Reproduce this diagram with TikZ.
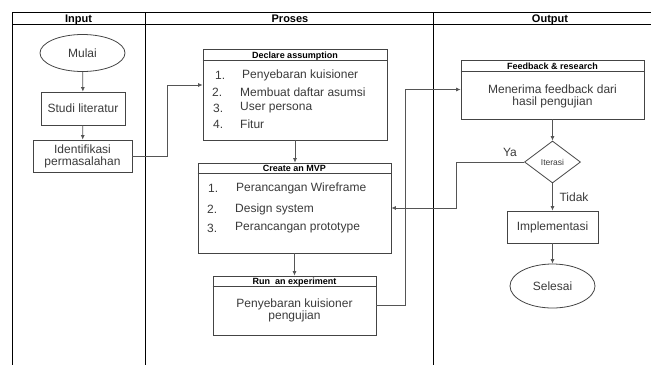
\documentclass[tikz,border=0pt]{standalone}
\usepackage{fontspec}
\setmainfont{Liberation Sans}
\usetikzlibrary{arrows.meta,shapes.geometric}
\definecolor{txt}{HTML}{3A3A3A}
\definecolor{boxc}{HTML}{444444}
\definecolor{linec}{HTML}{555555}
\tikzset{
  tabline/.style={line width=0.9pt, black},
  boxnode/.style={draw=boxc, line width=0.8pt, rectangle, inner sep=0pt, align=center, text=txt, font=\fontsize{12}{14}\selectfont},
  ellnode/.style={draw=boxc, line width=0.8pt, ellipse, inner sep=0pt, text=txt, font=\fontsize{12}{14}\selectfont},
  hdr/.style={font=\bfseries\fontsize{11}{13}\selectfont, text=black, inner sep=0pt, anchor=base},
  boxhdr/.style={font=\bfseries\fontsize{9}{11}\selectfont, text=black, inner sep=0pt, anchor=base},
  item/.style={anchor=west, inner sep=0pt, text=txt, font=\fontsize{12}{14}\selectfont},
  lbl/.style={inner sep=0pt, text=txt, font=\fontsize{12}{14}\selectfont},
  conn/.style={draw=linec, line width=0.7pt, -{Latex[length=4.5pt,width=4pt]}},
}
\begin{document}
\begin{tikzpicture}[x=1pt,y=-1pt]
\useasboundingbox (0,0) rectangle (651,365);
% table
\draw[tabline] (12,12) -- (651,12);
\draw[tabline] (12,24) -- (651,24);
\draw[tabline] (12,12) -- (12,365);
\draw[tabline] (145,12) -- (145,365);
\draw[tabline] (433,12) -- (433,365);
\node[hdr] (hin) at (78.5,22) {Input};
\node[hdr] (hpr) at (290,22) {Proses};
\node[hdr] (hout) at (550,22) {Output};
% Input column
\node[ellnode, minimum width=85, minimum height=37] (mulai) at (82.5,53) {Mulai};
\node[boxnode, minimum width=84, minimum height=33] (studi) at (83,108.5) {Studi literatur};
\node[boxnode, minimum width=99, minimum height=32] (ident) at (82.5,156) {Identifikasi\\[-2pt]permasalahan};
% Proses column
\node[boxnode, minimum width=184, minimum height=91] (decl) at (295,94.5) {};
\draw[draw=boxc, line width=0.8pt] ([yshift=-12pt]decl.north west) -- ([yshift=-12pt]decl.north east);
\node[boxhdr] (declh) at (295,58.5) {Declare assumption};
\node[item] (d1n) at (215,75) {1.};
\node[item] (d1t) at (242,75) {Penyebaran kuisioner};
\node[item] (d2n) at (212,92) {2.};
\node[item] (d2t) at (240,92) {Membuat daftar asumsi};
\node[item] (d3n) at (213,108) {3.};
\node[item] (d3t) at (240,108) {User persona};
\node[item] (d4n) at (213,124) {4.};
\node[item] (d4t) at (240,124) {Fitur};

\node[boxnode, minimum width=193, minimum height=90] (mvp) at (294.5,208) {};
\draw[draw=boxc, line width=0.8pt] ([yshift=-11pt]mvp.north west) -- ([yshift=-11pt]mvp.north east);
\node[boxhdr] (mvph) at (294.5,171.5) {Create an MVP};
\node[item] (m1n) at (208,188) {1.};
\node[item] (m1t) at (236,188) {Perancangan Wireframe};
\node[item] (m2n) at (207,209) {2.};
\node[item] (m2t) at (235,209) {Design system};
\node[item] (m3n) at (207,228) {3.};
\node[item] (m3t) at (235,228) {Perancangan prototype};

\node[boxnode, minimum width=163, minimum height=59] (run) at (294.5,305.5) {};
\draw[draw=boxc, line width=0.8pt] ([yshift=-11pt]run.north west) -- ([yshift=-11pt]run.north east);
\node[boxhdr] (runh) at (294.5,284.5) {Run\ \ an experiment};
\node[lbl, align=center] (runt) at (294.5,310) {Penyebaran kuisioner\\[-2pt]pengujian};
% Output column
\node[boxnode, minimum width=183, minimum height=59] (fb) at (552.5,89.5) {};
\draw[draw=boxc, line width=0.8pt] ([yshift=-12pt]fb.north west) -- ([yshift=-12pt]fb.north east);
\node[boxhdr] (fbh) at (552.5,69.5) {Feedback \& research};
\node[lbl, align=center] (fbt) at (552.5,96) {Menerima feedback dari\\[-2pt]hasil pengujian};
\node[draw=boxc, line width=0.8pt, diamond, aspect=1.33, minimum width=56, minimum height=42, inner sep=0pt, text=txt, font=\fontsize{8.5}{10}\selectfont] (iter) at (552.5,162) {Iterasi};
\node[boxnode, minimum width=91, minimum height=32] (impl) at (552.5,227) {Implementasi};
\node[ellnode, minimum width=85, minimum height=44] (sel) at (552.5,286) {Selesai};
\node[lbl] (ya) at (510,152) {Ya};
\node[lbl] (tidak) at (574,197) {Tidak};
% connectors
\draw[conn] (mulai) -- (studi);
\draw[conn] (studi) -- (ident);
\draw[conn] (ident.east) -- ++(35,0) |- ([yshift=9.5pt]decl.west);
\draw[conn] (decl.south) -- (decl.south |- mvp.north);
\draw[conn] (mvp.south) -- (run.north);
\draw[conn] (run.east) -- ++(29,0) |- (fb.west);
\draw[conn] (fb.south) -- (iter.north);
\draw[conn] (iter.west) -- ++(-68,0) |- (mvp.east);
\draw[conn] (iter.south) -- (impl.north);
\draw[conn] (impl.south) -- (sel.north);
\end{tikzpicture}
\end{document}
